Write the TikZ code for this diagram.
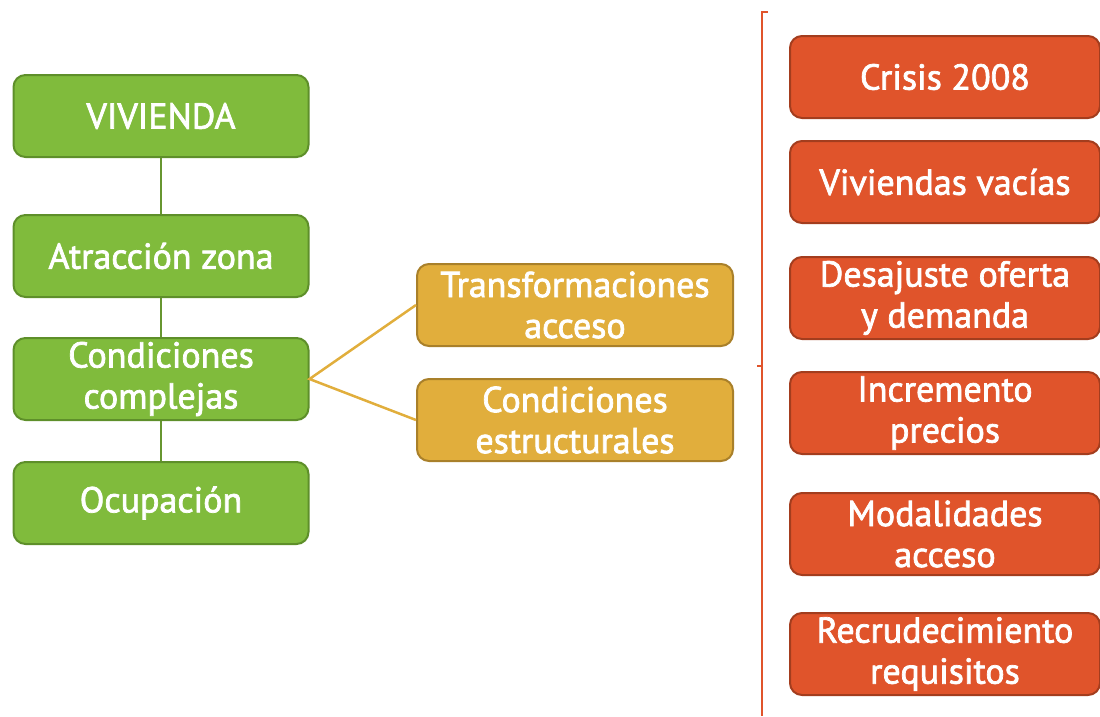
\documentclass[tikz,border=0pt]{standalone}
\usepackage{fontspec}
\setmainfont{PT Sans}
\newfontfamily\boxfont[FakeBold=2]{PT Sans}
\definecolor{vgreen}{HTML}{80BB3C}
\definecolor{vgreenD}{HTML}{5E8F2A}
\definecolor{vyellow}{HTML}{E1AE3C}
\definecolor{vyellowD}{HTML}{A9802A}
\definecolor{vred}{HTML}{E0542B}
\definecolor{vredD}{HTML}{A33D1E}

\begin{document}
\begin{tikzpicture}[x=1pt,y=-1pt,
	box/.style={rectangle,rounded corners=12pt,line width=2pt,text=white,
		minimum height=82pt,inner sep=2pt,align=center,
		font=\boxfont\fontsize{36}{41}\selectfont},
	gbox/.style={box,draw=vgreenD,fill=vgreen,minimum width=295pt},
	ybox/.style={box,draw=vyellowD,fill=vyellow,minimum width=316pt},
	rbox/.style={box,draw=vredD,fill=vred,minimum width=310pt}]
\useasboundingbox (0,0) rectangle (1100,716);
%\draw[help lines] (0,0) grid[step=100pt] (1100,716);
% links first, boxes on top
\coordinate (gtop) at (161,157);
\coordinate (gbot) at (161,462);
\draw[vgreen!80!black,line width=2pt] (gtop) -- (gbot);
\node[gbox] (viv) at (161,116) {VIVIENDA};
\node[gbox] (atr) at (161,256) {Atracción zona};
\node[gbox] (cond) at (161,379) {Condiciones\\complejas};
\node[gbox] (ocu) at (161,503) {Ocupación};
\node[ybox] (trans) at (575,305) {Transformaciones\\acceso};
\node[ybox] (estr) at (575,420) {Condiciones\\estructurales};
\draw[vyellow,line width=2.5pt] (trans.west) -- (cond.east) -- (estr.west);
% bracket
\draw[vred,line width=2.5pt] (768,12) -- (762,12) -- (762,366) -- (757,366)
	(762,366) -- (762,716);
\node[rbox] (crisis) at (945,77) {Crisis 2008};
\node[rbox] (vacias) at (945,182) {Viviendas vacías};
\node[rbox] (desaj) at (945,298) {Desajuste oferta\\y demanda};
\node[rbox] (incr) at (945,413) {Incremento\\precios};
\node[rbox] (modal) at (945,534) {Modalidades\\acceso};
\node[rbox] (recr) at (945,654) {Recrudecimiento\\requisitos};
\end{tikzpicture}
\end{document}
